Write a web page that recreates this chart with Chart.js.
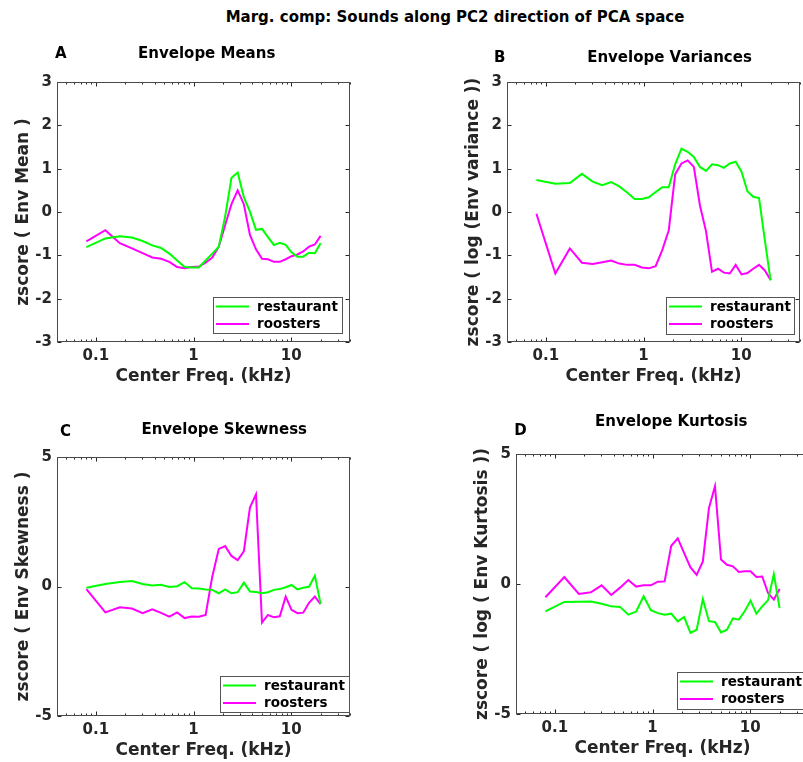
<!DOCTYPE html>
<html>
<head>
<meta charset="utf-8">
<script src="https://cdn.jsdelivr.net/npm/chart.js@4.4.1/dist/chart.umd.min.js"></script>
<style>
html,body{margin:0;padding:0;background:#fff;overflow:hidden;width:803px;height:762px;}
canvas{position:absolute;left:0;top:0;}
#sup{position:absolute;top:8px;left:455px;transform:translateX(-50%);font:bold 15px "DejaVu Sans";white-space:nowrap;color:#000;line-height:18px;}
</style>
</head>
<body>
<div id="sup">Marg. comp: Sounds along PC2 direction of PCA space</div>
<canvas id="cA" width="830" height="762"></canvas>
<canvas id="cB" width="830" height="762"></canvas>
<canvas id="cC" width="830" height="762"></canvas>
<canvas id="cD" width="830" height="762"></canvas>
<script>
// ---------- data ----------
const freqs = [0.080,0.125,0.176,0.234,0.301,0.378,0.465,0.565,0.680,0.811,0.961,1.133,1.330,1.555,1.813,2.108,2.446,2.832,3.275,3.781,4.360,5.024,5.783,6.652,7.645,8.781,10.08,11.57,13.28,15.23,17.46,20.00];
const seriesNames = ['restaurant','roosters'];

const meanRestaurant = [-0.81,-0.61,-0.56,-0.59,-0.67,-0.77,-0.83,-0.96,-1.12,-1.27,-1.28,-1.28,-1.12,-0.96,-0.80,-0.10,0.79,0.91,0.34,0.01,-0.41,-0.39,-0.58,-0.76,-0.71,-0.76,-0.93,-1.03,-1.03,-0.94,-0.95,-0.72];
const meanRoosters   = [-0.68,-0.42,-0.72,-0.84,-0.95,-1.05,-1.08,-1.15,-1.27,-1.30,-1.27,-1.26,-1.17,-1.05,-0.80,-0.30,0.18,0.50,0.18,-0.53,-0.86,-1.08,-1.09,-1.15,-1.15,-1.09,-1.02,-0.98,-0.91,-0.80,-0.75,-0.55];

const varRestaurant = [0.74,0.65,0.67,0.88,0.70,0.62,0.69,0.59,0.45,0.30,0.30,0.34,0.46,0.57,0.57,1.10,1.46,1.39,1.27,1.04,0.95,1.10,1.08,1.02,1.12,1.16,0.93,0.48,0.35,0.32,-0.65,-1.58];
const varRoosters   = [-0.04,-1.42,-0.84,-1.17,-1.20,-1.16,-1.12,-1.19,-1.22,-1.22,-1.28,-1.30,-1.25,-0.88,-0.42,0.87,1.12,1.19,1.04,0.15,-0.44,-1.38,-1.31,-1.40,-1.42,-1.22,-1.44,-1.41,-1.31,-1.22,-1.35,-1.57];

const skewRestaurant = [-0.05,0.10,0.17,0.21,0.10,0.04,0.07,-0.02,0.01,0.17,-0.07,-0.08,-0.12,-0.13,-0.26,-0.11,-0.26,-0.22,0.15,-0.19,-0.21,-0.26,-0.22,-0.13,-0.10,-0.03,0.06,-0.11,-0.05,-0.01,0.42,-0.67];
const skewRoosters   = [-0.10,-1.00,-0.80,-0.85,-1.03,-0.88,-1.02,-1.16,-1.00,-1.22,-1.16,-1.17,-1.10,0.38,1.45,1.56,1.18,1.02,1.36,3.05,3.56,-1.39,-1.10,-1.19,-1.15,-0.39,-0.90,-1.03,-1.01,-0.63,-0.39,-0.68];

const kurtRestaurant = [-1.05,-0.69,-0.68,-0.67,-0.76,-0.86,-0.88,-1.18,-1.06,-0.47,-1.01,-1.12,-1.18,-1.14,-1.44,-1.27,-1.88,-1.76,-0.58,-1.43,-1.46,-1.86,-1.76,-1.32,-1.37,-1.05,-0.64,-1.14,-0.86,-0.62,0.38,-0.93];
const kurtRoosters   = [-0.51,0.27,-0.38,-0.32,-0.05,-0.42,-0.14,0.15,-0.10,-0.05,-0.05,0.09,0.10,1.47,1.76,1.19,0.64,0.35,0.87,2.92,3.76,0.94,0.74,0.68,0.46,0.49,0.49,0.27,0.29,-0.35,-0.60,-0.19];

const xTickValues = [0.1, 1, 10];
const xTickLabels = ['0.1', '1', '10'];
const yTickValuesAB = [-3,-2,-1,0,1,2,3];
const yTickLabelsAB = ['-3','-2','-1','0','1','2','3'];
const yTickValuesCD = [-5,0,5];
const yTickLabelsCD = ['-5','0','5'];

const panelTitles = ['Envelope Means','Envelope Variances','Envelope Skewness','Envelope Kurtosis'];
const panelLetters = ['A','B','C','D'];
const yTitles = ['zscore ( Env Mean )','zscore ( log (Env variance ))','zscore ( Env Skewness )','zscore ( log ( Env Kurtosis ))'];
const xTitle = 'Center Freq. (kHz)';

// ---------- styling / layout ----------
const FONT = '"DejaVu Sans", sans-serif';
const AXC = '#262626';
const GREEN = '#00ff00';
const MAGENTA = '#ff00ff';
const CW = 830, CH = 762;

const decor = {
  id: 'decor',
  afterDraw(chart, args, o) {
    const ctx = chart.ctx, a = chart.chartArea, xs = chart.scales.x, ys = chart.scales.y;
    const L = Math.round(a.left) + 0.5, R = Math.round(a.right) - 0.5, T = Math.round(a.top) + 0.5, B = Math.round(a.bottom) - 0.5;
    ctx.save();
    ctx.strokeStyle = AXC; ctx.lineWidth = 1;
    ctx.beginPath();
    ys.ticks.forEach(t => {
      const p = Math.round(ys.getPixelForValue(t.value)) + 0.5;
      ctx.moveTo(L, p); ctx.lineTo(L + 4, p);
      ctx.moveTo(R, p); ctx.lineTo(R - 4, p);
    });
    for (let d = -2; d <= 1; d++) {
      for (let k = 1; k <= 9; k++) {
        const v = k * Math.pow(10, d);
        if (v < xs.min || v > xs.max) continue;
        const p = Math.round(xs.getPixelForValue(v)) + 0.5;
        const len = k === 1 ? 4 : 2;
        ctx.moveTo(p, B); ctx.lineTo(p, B - len);
        ctx.moveTo(p, T); ctx.lineTo(p, T + len);
      }
    }
    ctx.stroke();
    ctx.strokeStyle = '#4a4a4a';
    ctx.strokeRect(L, T, R - L, B - T);

    // legend box
    const lg = o.legend;
    ctx.fillStyle = '#fff';
    ctx.fillRect(lg.x, lg.y, lg.w, lg.h);
    ctx.strokeStyle = '#555';
    ctx.strokeRect(lg.x + 0.5, lg.y + 0.5, lg.w, lg.h);
    ctx.font = 'bold 13.5px ' + FONT;
    ctx.textAlign = 'left'; ctx.textBaseline = 'middle';
    chart.data.datasets.forEach((ds, i) => {
      const ry = lg.y + (i === 0 ? 9.5 : 27);
      ctx.strokeStyle = ds.borderColor; ctx.lineWidth = 2;
      ctx.beginPath(); ctx.moveTo(lg.x + 3, ry); ctx.lineTo(lg.x + 36, ry); ctx.stroke();
      ctx.fillStyle = '#000';
      ctx.fillText(ds.label, lg.x + 44, ry + 0.5);
    });

    // panel title + letter
    ctx.fillStyle = '#000';
    ctx.font = 'bold 15px ' + FONT;
    ctx.textAlign = 'center';
    ctx.fillText(o.title, o.titleX, o.titleY);
    ctx.textAlign = 'left';
    ctx.fillText(o.letter, o.letterX, o.letterY);
    ctx.restore();
  }
};

function makePanel(id, idx, geom, yMin, yMax, yVals, yLabels, rest, roost, deco) {
  const yTitleLH = 17 * 1.2;
  const yTitleCenter = geom.left - 33.5;
  const padLeft = yTitleCenter - yTitleLH / 2;
  const xScaleH = 35 + yTitleLH / 2;
  return new Chart(document.getElementById(id), {
    type: 'line',
    data: {
      datasets: [
        { label: seriesNames[0], data: freqs.map((f, i) => ({x: f, y: rest[i]})), borderColor: GREEN, borderWidth: 2, pointRadius: 0, tension: 0, fill: false },
        { label: seriesNames[1], data: freqs.map((f, i) => ({x: f, y: roost[i]})), borderColor: MAGENTA, borderWidth: 2, pointRadius: 0, tension: 0, fill: false }
      ]
    },
    options: {
      responsive: false,
      animation: false,
      events: [],
      layout: { padding: { left: padLeft, top: geom.top, right: CW - geom.right, bottom: CH - geom.bottom - xScaleH } },
      plugins: {
        legend: { display: false },
        title: { display: false },
        tooltip: { enabled: false },
        decor: Object.assign({ title: panelTitles[idx], letter: panelLetters[idx] }, deco)
      },
      scales: {
        x: {
          type: 'logarithmic', min: 0.04, max: 40,
          grid: { display: false, drawTicks: false },
          border: { display: false },
          afterBuildTicks: s => { s.ticks = xTickValues.map(v => ({ value: v })); },
          afterFit: s => { s.height = xScaleH; },
          ticks: {
            autoSkip: false, maxRotation: 0, minRotation: 0, padding: 5,
            color: AXC, font: { family: FONT, size: 15, weight: 'bold' },
            callback: (v) => { const k = xTickValues.indexOf(v); return k >= 0 ? xTickLabels[k] : ''; }
          },
          title: { display: true, text: xTitle, color: AXC, padding: 0, font: { family: FONT, size: 17, weight: 'bold' } }
        },
        y: {
          type: 'linear', min: yMin, max: yMax,
          grid: { display: false, drawTicks: false },
          border: { display: false },
          afterBuildTicks: s => { s.ticks = yVals.map(v => ({ value: v })); },
          afterFit: s => { s.width = geom.left - padLeft; },
          ticks: {
            autoSkip: false, padding: 5,
            color: AXC, font: { family: FONT, size: 15, weight: 'bold' },
            callback: (v) => { const k = yVals.indexOf(v); return k >= 0 ? yLabels[k] : ''; }
          },
          title: { display: true, text: yTitles[idx], color: AXC, padding: 0, font: { family: FONT, size: 17, weight: 'bold' } }
        }
      }
    },
    plugins: [decor]
  });
}

makePanel('cA', 0, {left: 57, top: 82, right: 350, bottom: 342}, -3, 3, yTickValuesAB, yTickLabelsAB, meanRestaurant, meanRoosters,
  { titleX: 206.7, titleY: 54, letterX: 55, letterY: 54, legend: {x: 213, y: 297, w: 129, h: 36} });
makePanel('cB', 1, {left: 507, top: 82, right: 800, bottom: 342}, -3, 3, yTickValuesAB, yTickLabelsAB, varRestaurant, varRoosters,
  { titleX: 669.5, titleY: 58.3, letterX: 494, letterY: 58.3, legend: {x: 666, y: 297, w: 128, h: 37} });
makePanel('cC', 2, {left: 57, top: 457, right: 350, bottom: 716}, -5, 5, yTickValuesCD, yTickLabelsCD, skewRestaurant, skewRoosters,
  { titleX: 224.2, titleY: 430, letterX: 60, letterY: 432.3, legend: {x: 220, y: 676, w: 129, h: 36} });
makePanel('cD', 3, {left: 516, top: 454, right: 809, bottom: 714}, -5, 5, yTickValuesCD, yTickLabelsCD, kurtRestaurant, kurtRoosters,
  { titleX: 671.3, titleY: 422.3, letterX: 514.3, letterY: 430.7, legend: {x: 677, y: 672, w: 129, h: 37} });
</script>
</body>
</html>
